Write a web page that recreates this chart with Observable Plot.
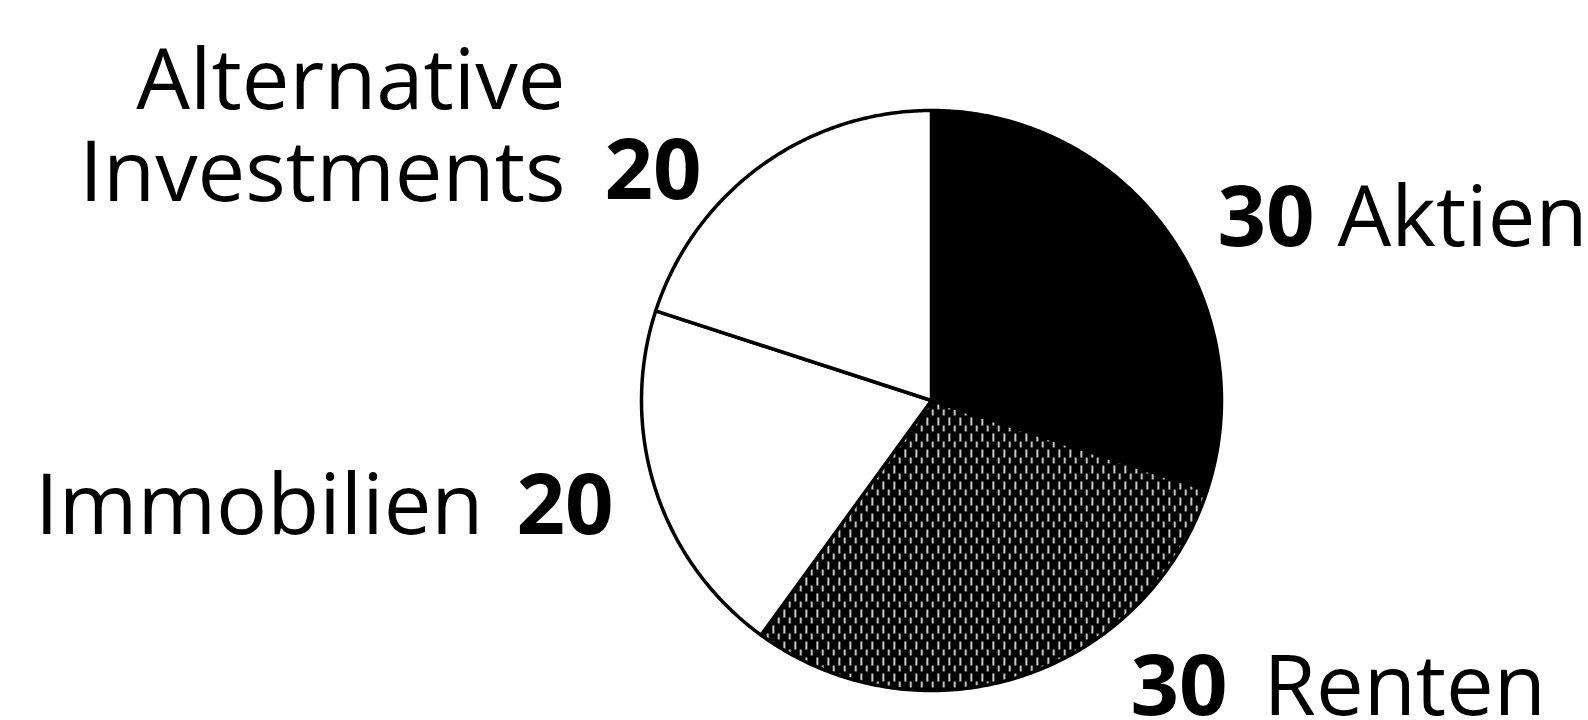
<!DOCTYPE html>
<html>
<head>
<meta charset="utf-8">
<script src="https://cdn.jsdelivr.net/npm/d3@7"></script>
<script src="https://cdn.jsdelivr.net/npm/@observablehq/plot@0.6"></script>
<style>
  html, body { margin: 0; padding: 0; background: #fff; }
  #chart svg { display: block; }
</style>
</head>
<body>
<div id="chart"></div>
<script>
// ---- data ----
const categories = ["Aktien", "Renten", "Immobilien", "Alternative Investments"];
const values = [30, 30, 20, 20];
const labelLines = ["Aktien", "Renten", "Immobilien", "Alternative\nInvestments"];

// ---- styles / layout (kept apart from the data) ----
const fills = ["#000", "url(#renten-pattern)", "#fff", "#fff"];
const W = 1588, H = 720;
const pie = { cx: 931, cy: 400, r: 290 };
const fontSize = 85;
const layout = {
  "Aktien":                  { nameX: 1337, nameY: 245, anchor: "start", numX: 1217, numY: 245 },
  "Renten":                  { nameX: 1263, nameY: 714, anchor: "start", numX: 1130, numY: 714 },
  "Immobilien":              { nameX: 483,  nameY: 533, anchor: "end",   numX: 516,  numY: 533 },
  "Alternative Investments": { nameX: 565,  nameY: 200, anchor: "end",   numX: 604,  numY: 198 }
};

// ---- pie geometry from the values ----
const total = d3.sum(values);
const slicePts = [];
let acc = 0;
categories.forEach((c, i) => {
  const a0 = acc / total * 2 * Math.PI;
  acc += values[i];
  const a1 = acc / total * 2 * Math.PI;
  const n = Math.max(2, Math.ceil((a1 - a0) / (Math.PI / 360)));
  slicePts.push({ cat: c, x: pie.cx, y: pie.cy });
  for (let k = 0; k <= n; ++k) {
    const a = a0 + (a1 - a0) * k / n;
    slicePts.push({ cat: c, x: pie.cx + pie.r * Math.sin(a), y: pie.cy - pie.r * Math.cos(a) });
  }
  slicePts.push({ cat: c, x: pie.cx, y: pie.cy });
});

const idx = d3.range(categories.length);
const textCommon = {
  lineAnchor: "bottom",
  fontSize,
  fontFamily: "'Open Sans', 'Noto Sans', sans-serif",
  fill: "#000"
};

const svg = Plot.plot({
  width: W,
  height: H,
  margin: 0,
  x: { domain: [0, W], range: [0, W], axis: null },
  y: { domain: [0, H], range: [0, H], axis: null },
  color: { domain: categories, range: fills },
  style: { background: "#fff", overflow: "visible" },
  marks: [
    Plot.line(slicePts, {
      x: "x", y: "y", z: "cat", fill: "cat",
      stroke: "#000", strokeWidth: 3.5, strokeLinejoin: "round", curve: "linear"
    }),
    Plot.text(idx.filter(i => layout[categories[i]].anchor === "start"), {
      ...textCommon,
      x: i => layout[categories[i]].nameX,
      y: i => layout[categories[i]].nameY,
      text: i => labelLines[i],
      textAnchor: "start"
    }),
    Plot.text(idx.filter(i => layout[categories[i]].anchor === "end"), {
      ...textCommon,
      x: i => layout[categories[i]].nameX,
      y: i => layout[categories[i]].nameY,
      text: i => labelLines[i],
      textAnchor: "end",
      lineHeight: 1.082
    }),
    Plot.text(idx, {
      ...textCommon,
      x: i => layout[categories[i]].numX,
      y: i => layout[categories[i]].numY,
      text: i => String(values[i]),
      textAnchor: "start",
      fontWeight: "bold"
    })
  ]
});

// pattern for the "Renten" slice: black ground with short white vertical dashes
const defs = d3.select(svg).insert("defs", ":first-child");
const pat = defs.append("pattern")
  .attr("id", "renten-pattern")
  .attr("patternUnits", "userSpaceOnUse")
  .attr("width", 11).attr("height", 16);
pat.append("rect").attr("width", 11).attr("height", 16).attr("fill", "#000");
pat.append("rect").attr("x", 2).attr("y", 1).attr("width", 1.6).attr("height", 8).attr("fill", "#fff");
pat.append("rect").attr("x", 7.5).attr("y", 9).attr("width", 1.6).attr("height", 6).attr("fill", "#fff");

document.getElementById("chart").appendChild(svg);
</script>
</body>
</html>
